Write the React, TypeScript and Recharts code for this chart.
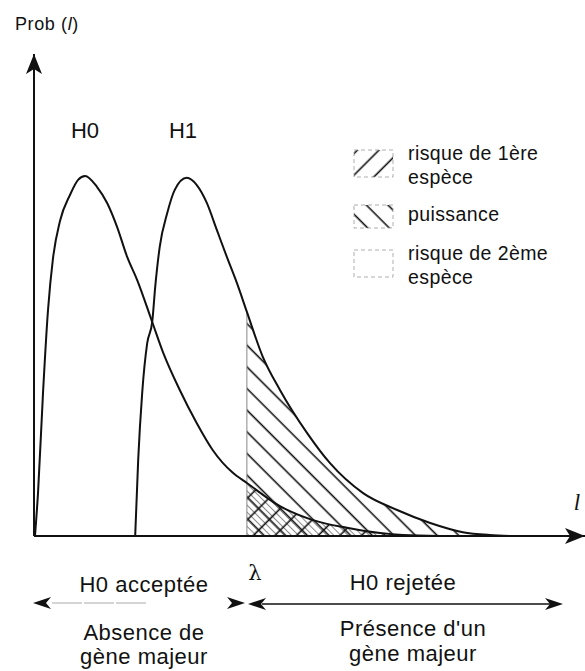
import { Area, ComposedChart, Customized, Line, ReferenceLine, XAxis, YAxis } from "recharts";

// threshold lambda on the l axis
const LAMBDA = 42.5;

// H0 density (l, prob)
const h0L = [0.2, 0.8, 1.8, 2.8, 3.8, 5.2, 7.2, 8.8, 10.2, 12.6, 14.6, 16.6, 18.6, 20.6, 23.6, 25.8, 29.1, 32.5, 35.7, 39.7, 42.5, 49.1, 55.7, 62.5, 69.1, 73.7, 81.1];
const h0P = [0, 8.9, 29.7, 46.9, 57.7, 65.4, 70.8, 73.9, 74.7, 72.4, 69.1, 64.1, 57.9, 53.1, 44.4, 38.0, 30.3, 23.4, 17.8, 13.1, 11.0, 6.2, 3.3, 1.7, 0.6, 0.2, 0];

// H1 density (l, prob)
const h1L = [20.2, 20.8, 21.6, 22.6, 23.6, 24.2, 25.1, 26.6, 28.1, 30.5, 32.5, 34.5, 36.5, 38.5, 40.5, 42.5, 45.7, 49.1, 54.5, 59.1, 65.7, 72.5, 79.1, 85.6, 91.0, 95.0];
const h1P = [0, 15.8, 29.7, 40.0, 44.4, 51.7, 60.0, 67.0, 71.8, 74.3, 72.8, 69.1, 63.5, 57.9, 52.5, 46.5, 37.1, 30.3, 21.4, 15.1, 8.9, 5.4, 2.7, 0.8, 0.2, 0];

const legendItems = [
  { fill: "url(#hatchAlpha)", lines: ["risque de 1ère", "espèce"] },
  { fill: "url(#hatchPower)", lines: ["puissance"] },
  { fill: "none", lines: ["risque de 2ème", "espèce"] },
];
const leftLabels = ["H0 acceptée", "Absence de", "gène majeur"];
const rightLabels = ["H0 rejetée", "Présence d'un", "gène majeur"];

const SANS = "'Liberation Sans', Arial, Helvetica, sans-serif";
const INK = "#111";

const toRows = (ls: number[], ps: number[]) => ls.map((l, i) => ({ l, p: ps[i] }));
const h0Data = toRows(h0L, h0P);
const h1Data = toRows(h1L, h1P);
const h0Tail = h0Data.filter((d) => d.l >= LAMBDA);
const h1Tail = h1Data.filter((d) => d.l >= LAMBDA);
const h1AtLambda = h1Tail[0].p;

function head(tip: number, y: number, dir: number) {
  return `M${tip},${y} L${tip - dir * 18},${y - 6} L${tip - dir * 13},${y} L${tip - dir * 18},${y + 6} Z`;
}

function Annotations() {
  const legendTops = [150, 205, 250];
  return (
    <g fontFamily={SANS} fill={INK}>
      <text x={15} y={30} fontSize={18} letterSpacing={0.6}>
        Prob (<tspan fontStyle="italic">l</tspan>)
      </text>
      <text x={85} y={138} fontSize={22} textAnchor="middle">H0</text>
      <text x={183} y={138} fontSize={22} textAnchor="middle">H1</text>
      <text x={577} y={510} fontSize={23} fontStyle="italic" fontFamily="'Liberation Serif', serif" textAnchor="middle">l</text>
      <text x={255} y={580} fontSize={21} fontFamily="'DejaVu Serif', serif" textAnchor="middle">λ</text>

      {legendItems.map((item, i) => (
        <g key={i}>
          <rect x={354} y={legendTops[i]} width={39} height={i === 1 ? 23 : 27} fill={item.fill} stroke="#999" strokeWidth={0.8} strokeDasharray="4 3" />
          {item.lines.map((t, j) => (
            <text key={j} x={408} y={legendTops[i] + 10 + (i === 1 ? 6 : 0) + j * 24} fontSize={19.5} letterSpacing={0.4}>
              {t}
            </text>
          ))}
        </g>
      ))}

      {leftLabels.map((t, i) => (
        <text key={t} x={144} y={[592, 640, 664][i]} fontSize={22} letterSpacing={0.5} textAnchor="middle">{t}</text>
      ))}
      {rightLabels.map((t, i) => (
        <text key={t + i} x={i === 0 ? 403 : 413} y={[590, 636, 661][i]} fontSize={22} letterSpacing={0.5} textAnchor="middle">{t}</text>
      ))}

      <path d={head(33, 603, -1)} />
      <line x1={52} y1={603} x2={146} y2={603} stroke="#aaa" strokeWidth={1} strokeDasharray="30 2" />
      <path d={head(245, 603, 1)} />
      <path d={head(248, 604, -1)} />
      <line x1={262} y1={604} x2={550} y2={604} stroke={INK} strokeWidth={1.5} />
      <path d={head(563, 604, 1)} />
    </g>
  );
}

export default function App() {
  return (
    <div style={{ position: "absolute", left: 0, top: 0, width: 585, height: 671, background: "#fff", fontFamily: SANS }}>
      <ComposedChart width={585} height={671} margin={{ top: 54, right: 0, bottom: 105, left: 0 }}>
        <defs>
          <marker id="axisHead" viewBox="0 0 20 16" refX="20" refY="8" markerWidth="20" markerHeight="16" markerUnits="userSpaceOnUse" orient="auto-start-reverse">
            <path d="M0,0 L20,8 L0,16 L5,8 Z" fill={INK} />
          </marker>
          <pattern id="hatchPower" patternUnits="userSpaceOnUse" width="15.3" height="15.3" patternTransform="rotate(-45)">
            <line x1="7" y1="0" x2="7" y2="15.3" stroke={INK} strokeWidth="1.6" />
          </pattern>
          <pattern id="hatchAlpha" patternUnits="userSpaceOnUse" width="15.3" height="15.3" patternTransform="rotate(45)">
            <line x1="7" y1="0" x2="7" y2="15.3" stroke={INK} strokeWidth="1.6" />
          </pattern>
          <pattern id="hatchFine" patternUnits="userSpaceOnUse" width="5" height="5" patternTransform="rotate(-45)">
            <line x1="2.5" y1="0" x2="2.5" y2="5" stroke="#555" strokeWidth="0.7" />
          </pattern>
        </defs>
        <XAxis
          type="number"
          dataKey="l"
          domain={[0, 110]}
          allowDataOverflow
          tick={false}
          tickLine={false}
          height={30}
          axisLine={{ stroke: INK, strokeWidth: 2, markerEnd: "url(#axisHead)" }}
        />
        <YAxis
          type="number"
          domain={[0, 100]}
          allowDataOverflow
          tick={false}
          tickLine={false}
          width={34}
          axisLine={{ stroke: INK, strokeWidth: 2, markerStart: "url(#axisHead)" }}
        />
        <Area data={h1Tail} dataKey="p" type="monotone" stroke="none" fill="url(#hatchPower)" fillOpacity={1} isAnimationActive={false} dot={false} activeDot={false} />
        <Area data={h0Tail} dataKey="p" type="monotone" stroke="none" fill="url(#hatchFine)" fillOpacity={1} isAnimationActive={false} dot={false} activeDot={false} />
        <Area data={h0Tail} dataKey="p" type="monotone" stroke="none" fill="url(#hatchAlpha)" fillOpacity={1} isAnimationActive={false} dot={false} activeDot={false} />
        <ReferenceLine
          segment={[{ x: LAMBDA, y: 0 }, { x: LAMBDA, y: h1AtLambda }]}
          stroke="#888"
          strokeWidth={1}
        />
        <Line data={h0Data} dataKey="p" type="monotone" stroke={INK} strokeWidth={2} dot={false} activeDot={false} isAnimationActive={false} />
        <Line data={h1Data} dataKey="p" type="monotone" stroke={INK} strokeWidth={2} dot={false} activeDot={false} isAnimationActive={false} />
        <Customized component={Annotations} />
      </ComposedChart>
    </div>
  );
}
